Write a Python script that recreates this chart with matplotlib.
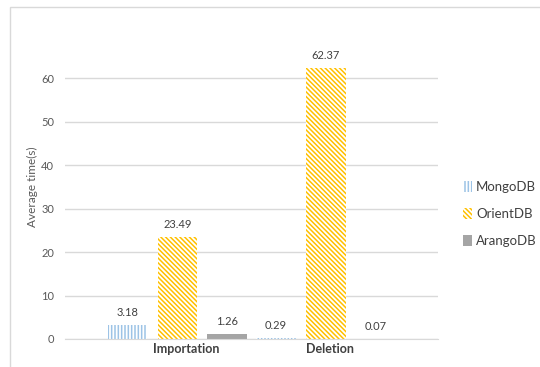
import matplotlib.pyplot as plt
import matplotlib.patches as mpatches
import numpy as np

# Data
categories = ['Importation', 'Deletion']
databases = ['MongoDB', 'OrientDB', 'ArangoDB']
mongo = [3.18, 0.29]
orient = [23.49, 62.37]
arango = [1.26, 0.07]

series = [mongo, orient, arango]
colors = ['#9DC3E6', '#FFC000', '#A5A5A5']
hatches = ['|||||', '\\\\\\\\\\\\\\', None]

plt.rcParams['font.family'] = ['Lato', 'DejaVu Sans']
plt.rcParams['hatch.linewidth'] = 1.1

fig = plt.figure(figsize=(5.4, 3.67), dpi=100)
# light frame around the chart
fig.patches.append(mpatches.Rectangle((10 / 540, -0.1), 1.2, 1 - 7 / 367 + 0.1,
                                      transform=fig.transFigure, fill=False,
                                      edgecolor='#D9D9D9', linewidth=1))
ax = fig.add_axes([0.121, 0.0763, 0.69, 0.829])

x = np.arange(len(categories))
w = 0.266
step = 0.335
for i, (vals, c, h) in enumerate(zip(series, colors, hatches)):
    pos = x + (i - 1) * step
    if h is None:
        ax.bar(pos, vals, w, color=c, label=databases[i], linewidth=0)
    else:
        ax.bar(pos, vals, w, facecolor='white', edgecolor=c, hatch=h,
               linewidth=0, label=databases[i])
    for p, v in zip(pos, vals):
        ax.text(p, v + 1.6, f'{v:.2f}', ha='center', va='bottom',
                fontsize=8, color='#404040')

ax.set_xlim(-0.754, 1.754)
ax.set_ylim(0, 70)
ax.set_yticks(range(0, 61, 10))
ax.set_xticks([0.06, 1.03])
ax.set_xticklabels(categories, fontsize=9, fontweight='bold', color='#404040')
ax.tick_params(axis='y', labelsize=8, colors='#595959', length=0, pad=8)
ax.tick_params(axis='x', length=0, pad=3)
ax.set_ylabel('Average time(s)', fontsize=8.5, color='#595959', labelpad=2)
ax.yaxis.grid(True, color='#D9D9D9', linewidth=1)
ax.set_axisbelow(True)
for s in ['top', 'right', 'left']:
    ax.spines[s].set_visible(False)
ax.spines['bottom'].set_color('#D9D9D9')

ax.legend(loc='center left', bbox_to_anchor=(1.035, 0.411), frameon=False,
          fontsize=9.5, labelcolor='#404040', handlelength=0.7, handleheight=0.9,
          handletextpad=0.3, labelspacing=1.15)

fig.savefig('out.png', dpi=100)
